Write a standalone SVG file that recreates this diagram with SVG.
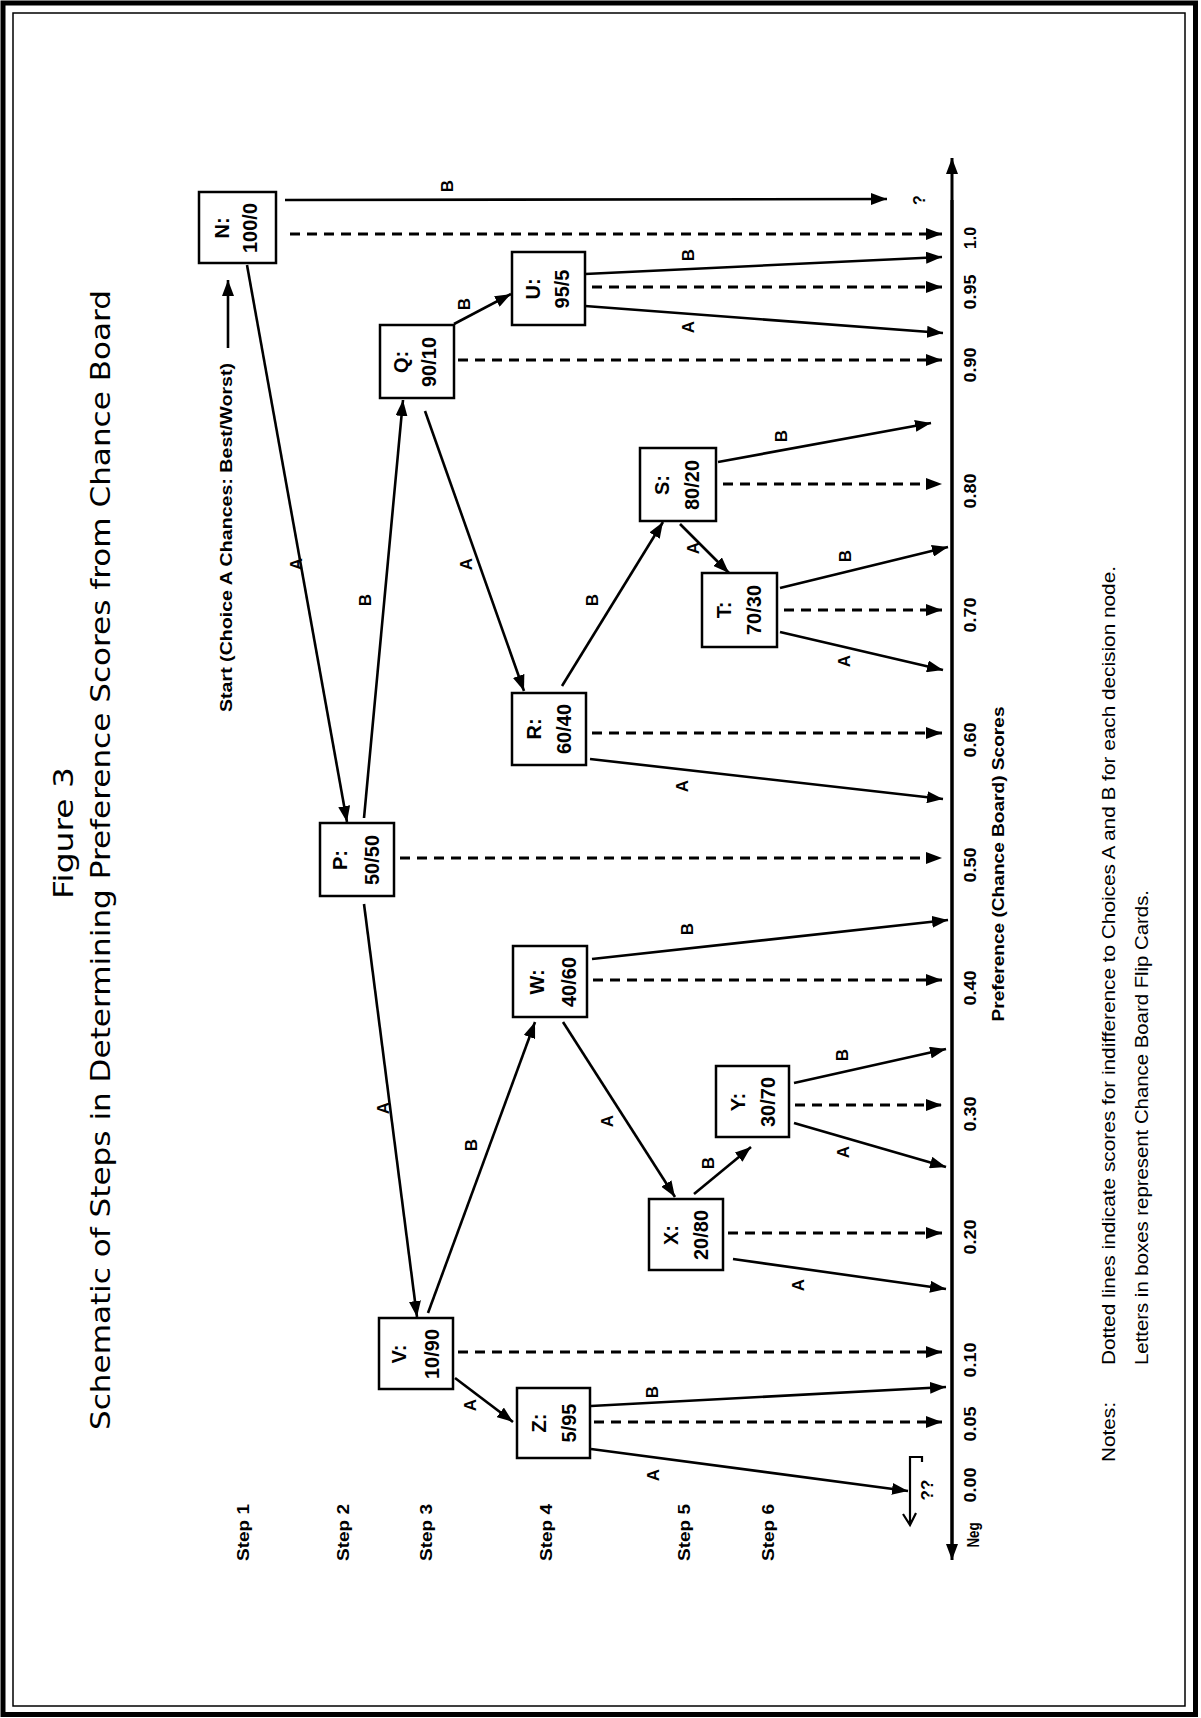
<svg xmlns="http://www.w3.org/2000/svg" width="1201" height="1718" viewBox="0 0 1201 1718">
<style>
.box{fill:#fff;stroke:#000;stroke-width:2.5}
.nt{font-family:"Liberation Sans",Arial,sans-serif;font-weight:bold;font-size:20px;text-anchor:middle;fill:#000}
.sol{fill:none;stroke:#000;stroke-width:2.6;marker-end:url(#ah)}
.dsh{fill:none;stroke:#000;stroke-width:2.8;stroke-dasharray:10 7;marker-end:url(#ah)}
.lb{font-family:"Liberation Sans",Arial,sans-serif;font-weight:bold;font-size:17px;text-anchor:middle;fill:#000}
.tk{font-family:"Liberation Sans",Arial,sans-serif;font-weight:bold;font-size:16px;text-anchor:middle;fill:#000}
.st{font-family:"Liberation Sans",Arial,sans-serif;font-weight:bold;font-size:17px;fill:#000}
.tt{font-family:"DejaVu Sans","Liberation Sans",sans-serif;font-size:27px;text-anchor:middle;fill:#000}
.no{font-family:"Liberation Sans",Arial,sans-serif;font-size:19px;fill:#000}
</style>
<defs>
<marker id="ah" viewBox="0 0 16 12" refX="16" refY="6" markerWidth="16" markerHeight="12" markerUnits="userSpaceOnUse" orient="auto">
<path d="M0,0 L16,6 L0,12 z" fill="#000"/>
</marker>
</defs>
<rect width="1201" height="1718" fill="#fff"/>
<rect x="3" y="3" width="1192.5" height="1711.5" fill="none" stroke="#000" stroke-width="5"/>
<rect x="13" y="13" width="1172" height="1693" fill="none" stroke="#000" stroke-width="1.5"/>

<g id="title">
<text class="tt" transform="translate(73,833) rotate(-90)" textLength="132" lengthAdjust="spacingAndGlyphs">Figure 3</text>
<text class="tt" transform="translate(110,860) rotate(-90)" textLength="1140" lengthAdjust="spacingAndGlyphs">Schematic of Steps in Determining Preference Scores from Chance Board</text>
</g>

<g id="start">
<text class="st" transform="translate(232,712) rotate(-90)" textLength="349" lengthAdjust="spacingAndGlyphs">Start (Choice A Chances: Best/Worst)</text>
<line x1="228" y1="348" x2="228" y2="280" class="sol"/>
</g>

<g id="steps">
<text class="st" transform="translate(249,1561) rotate(-90)" textLength="57" lengthAdjust="spacingAndGlyphs">Step 1</text>
<text class="st" transform="translate(349,1561) rotate(-90)" textLength="57" lengthAdjust="spacingAndGlyphs">Step 2</text>
<text class="st" transform="translate(432,1561) rotate(-90)" textLength="57" lengthAdjust="spacingAndGlyphs">Step 3</text>
<text class="st" transform="translate(552,1561) rotate(-90)" textLength="57" lengthAdjust="spacingAndGlyphs">Step 4</text>
<text class="st" transform="translate(690,1561) rotate(-90)" textLength="57" lengthAdjust="spacingAndGlyphs">Step 5</text>
<text class="st" transform="translate(774,1561) rotate(-90)" textLength="57" lengthAdjust="spacingAndGlyphs">Step 6</text>
</g>

<g id="axis">
<line x1="952" y1="1555" x2="952" y2="158" class="sol" style="stroke-width:3"/>
<line x1="952" y1="200" x2="952" y2="1560" class="sol" style="stroke-width:3"/>
<text class="tk" transform="translate(925,200) rotate(-90)">?</text>
<text class="tk" transform="translate(976,238) rotate(-90)" textLength="22" lengthAdjust="spacingAndGlyphs">1.0</text>
<text class="tk" transform="translate(976,292) rotate(-90)" textLength="35" lengthAdjust="spacingAndGlyphs">0.95</text>
<text class="tk" transform="translate(976,365) rotate(-90)" textLength="35" lengthAdjust="spacingAndGlyphs">0.90</text>
<text class="tk" transform="translate(976,491) rotate(-90)" textLength="35" lengthAdjust="spacingAndGlyphs">0.80</text>
<text class="tk" transform="translate(976,615) rotate(-90)" textLength="35" lengthAdjust="spacingAndGlyphs">0.70</text>
<text class="tk" transform="translate(976,740) rotate(-90)" textLength="35" lengthAdjust="spacingAndGlyphs">0.60</text>
<text class="tk" transform="translate(976,865) rotate(-90)" textLength="35" lengthAdjust="spacingAndGlyphs">0.50</text>
<text class="tk" transform="translate(976,988) rotate(-90)" textLength="35" lengthAdjust="spacingAndGlyphs">0.40</text>
<text class="tk" transform="translate(976,1114) rotate(-90)" textLength="35" lengthAdjust="spacingAndGlyphs">0.30</text>
<text class="tk" transform="translate(976,1237) rotate(-90)" textLength="35" lengthAdjust="spacingAndGlyphs">0.20</text>
<text class="tk" transform="translate(976,1360) rotate(-90)" textLength="35" lengthAdjust="spacingAndGlyphs">0.10</text>
<text class="tk" transform="translate(976,1424) rotate(-90)" textLength="35" lengthAdjust="spacingAndGlyphs">0.05</text>
<text class="tk" transform="translate(976,1485) rotate(-90)" textLength="35" lengthAdjust="spacingAndGlyphs">0.00</text>
<text class="tk" transform="translate(979,1535) rotate(-90)" textLength="25" lengthAdjust="spacingAndGlyphs">Neg</text>
<text class="tk" transform="translate(1004,864) rotate(-90)" textLength="315" lengthAdjust="spacingAndGlyphs">Preference (Chance Board) Scores</text>
</g>

<g id="node-N"><rect class="box" x="199" y="192" width="77" height="71"/><text class="nt" transform="translate(229,228) rotate(-90)">N:</text><text class="nt" transform="translate(257,228) rotate(-90)">100/0</text></g>
<g id="node-Q"><rect class="box" x="380" y="325" width="74" height="73"/><text class="nt" transform="translate(408,362) rotate(-90)">Q:</text><text class="nt" transform="translate(436,362) rotate(-90)">90/10</text></g>
<g id="node-U"><rect class="box" x="512" y="252" width="73" height="73"/><text class="nt" transform="translate(540,289) rotate(-90)">U:</text><text class="nt" transform="translate(569,289) rotate(-90)">95/5</text></g>
<g id="node-S"><rect class="box" x="640" y="448" width="76" height="73"/><text class="nt" transform="translate(669,485) rotate(-90)">S:</text><text class="nt" transform="translate(699,485) rotate(-90)">80/20</text></g>
<g id="node-T"><rect class="box" x="702" y="573" width="75" height="74"/><text class="nt" transform="translate(731,610) rotate(-90)">T:</text><text class="nt" transform="translate(761,610) rotate(-90)">70/30</text></g>
<g id="node-R"><rect class="box" x="512" y="693" width="74" height="72"/><text class="nt" transform="translate(541,729) rotate(-90)">R:</text><text class="nt" transform="translate(571,729) rotate(-90)">60/40</text></g>
<g id="node-P"><rect class="box" x="320" y="823" width="74" height="73"/><text class="nt" transform="translate(347,860) rotate(-90)">P:</text><text class="nt" transform="translate(379,860) rotate(-90)">50/50</text></g>
<g id="node-W"><rect class="box" x="513" y="946" width="74" height="71"/><text class="nt" transform="translate(544,982) rotate(-90)">W:</text><text class="nt" transform="translate(576,982) rotate(-90)">40/60</text></g>
<g id="node-Y"><rect class="box" x="716" y="1066" width="73" height="71"/><text class="nt" transform="translate(745,1102) rotate(-90)">Y:</text><text class="nt" transform="translate(775,1102) rotate(-90)">30/70</text></g>
<g id="node-X"><rect class="box" x="649" y="1199" width="74" height="71"/><text class="nt" transform="translate(678,1235) rotate(-90)">X:</text><text class="nt" transform="translate(708,1235) rotate(-90)">20/80</text></g>
<g id="node-V"><rect class="box" x="379" y="1318" width="74" height="71"/><text class="nt" transform="translate(406,1354) rotate(-90)">V:</text><text class="nt" transform="translate(439,1354) rotate(-90)">10/90</text></g>
<g id="node-Z"><rect class="box" x="517" y="1388" width="73" height="70"/><text class="nt" transform="translate(546,1423) rotate(-90)">Z:</text><text class="nt" transform="translate(576,1423) rotate(-90)">5/95</text></g>

<g id="connectors">
<line class="dsh" x1="290" y1="234" x2="942" y2="234"/>
<line class="dsh" x1="592" y1="287" x2="942" y2="287"/>
<line class="dsh" x1="458" y1="360" x2="942" y2="360"/>
<line class="dsh" x1="723" y1="484" x2="942" y2="484"/>
<line class="dsh" x1="784" y1="610" x2="942" y2="610"/>
<line class="dsh" x1="592" y1="733" x2="942" y2="733"/>
<line class="dsh" x1="400" y1="858" x2="942" y2="858"/>
<line class="dsh" x1="593" y1="980" x2="942" y2="980"/>
<line class="dsh" x1="795" y1="1105" x2="942" y2="1105"/>
<line class="dsh" x1="728" y1="1233" x2="942" y2="1233"/>
<line class="dsh" x1="458" y1="1352" x2="942" y2="1352"/>
<line class="dsh" x1="594" y1="1422" x2="942" y2="1422"/>

<line class="sol" x1="285" y1="200" x2="887" y2="199"/>
<line class="sol" x1="247" y1="265" x2="347" y2="822"/>
<line class="sol" x1="364" y1="818" x2="403" y2="400"/>
<line class="sol" x1="364" y1="904" x2="417" y2="1317"/>
<line class="sol" x1="454" y1="324" x2="511" y2="294"/>
<line class="sol" x1="425" y1="411" x2="524" y2="691"/>
<line class="sol" x1="585" y1="274" x2="942" y2="257"/>
<line class="sol" x1="585" y1="306" x2="943" y2="333"/>
<line class="sol" x1="562" y1="686" x2="663" y2="522"/>
<line class="sol" x1="590" y1="759" x2="943" y2="799"/>
<line class="sol" x1="680" y1="524" x2="729" y2="573"/>
<line class="sol" x1="718" y1="462" x2="931" y2="423"/>
<line class="sol" x1="780" y1="588" x2="948" y2="547"/>
<line class="sol" x1="780" y1="632" x2="943" y2="670"/>
<line class="sol" x1="428" y1="1313" x2="535" y2="1022"/>
<line class="sol" x1="455" y1="1378" x2="513" y2="1422"/>
<line class="sol" x1="592" y1="959" x2="948" y2="920"/>
<line class="sol" x1="563" y1="1022" x2="675" y2="1197"/>
<line class="sol" x1="694" y1="1194" x2="751" y2="1147"/>
<line class="sol" x1="733" y1="1259" x2="946" y2="1289"/>
<line class="sol" x1="794" y1="1083" x2="946" y2="1049"/>
<line class="sol" x1="794" y1="1123" x2="946" y2="1167"/>
<line class="sol" x1="591" y1="1406" x2="946" y2="1387"/>
<line class="sol" x1="591" y1="1449" x2="908" y2="1491"/>

<path d="M922,1462 L922,1457 L910,1457 L910,1524 M903,1514 L910,1525 L916,1513" fill="none" stroke="#000" stroke-width="2.2"/>
<text class="lb" transform="translate(933,1490) rotate(-90)">??</text>

<text class="lb" transform="translate(453,186) rotate(-90)">B</text>
<text class="lb" transform="translate(302,564) rotate(-90)">A</text>
<text class="lb" transform="translate(371,600) rotate(-90)">B</text>
<text class="lb" transform="translate(472,564) rotate(-90)">A</text>
<text class="lb" transform="translate(470,304) rotate(-90)">B</text>
<text class="lb" transform="translate(694,255) rotate(-90)">B</text>
<text class="lb" transform="translate(694,327) rotate(-90)">A</text>
<text class="lb" transform="translate(787,436) rotate(-90)">B</text>
<text class="lb" transform="translate(699,548) rotate(-90)">A</text>
<text class="lb" transform="translate(851,556) rotate(-90)">B</text>
<text class="lb" transform="translate(850,661) rotate(-90)">A</text>
<text class="lb" transform="translate(598,600) rotate(-90)">B</text>
<text class="lb" transform="translate(688,786) rotate(-90)">A</text>
<text class="lb" transform="translate(389,1108) rotate(-90)">A</text>
<text class="lb" transform="translate(477,1145) rotate(-90)">B</text>
<text class="lb" transform="translate(693,929) rotate(-90)">B</text>
<text class="lb" transform="translate(613,1121) rotate(-90)">A</text>
<text class="lb" transform="translate(714,1163) rotate(-90)">B</text>
<text class="lb" transform="translate(804,1285) rotate(-90)">A</text>
<text class="lb" transform="translate(848,1055) rotate(-90)">B</text>
<text class="lb" transform="translate(849,1152) rotate(-90)">A</text>
<text class="lb" transform="translate(476,1405) rotate(-90)">A</text>
<text class="lb" transform="translate(658,1392) rotate(-90)">B</text>
<text class="lb" transform="translate(659,1475) rotate(-90)">A</text>
</g>

<g id="notes">
<text class="no" transform="translate(1115,1462) rotate(-90)" textLength="60" lengthAdjust="spacingAndGlyphs">Notes:</text>
<text class="no" transform="translate(1115,1365) rotate(-90)" textLength="799" lengthAdjust="spacingAndGlyphs">Dotted lines indicate scores for indifference to Choices A and B for each decision node.</text>
<text class="no" transform="translate(1148,1365) rotate(-90)" textLength="475" lengthAdjust="spacingAndGlyphs">Letters in boxes represent Chance Board Flip Cards.</text>
</g>
</svg>
